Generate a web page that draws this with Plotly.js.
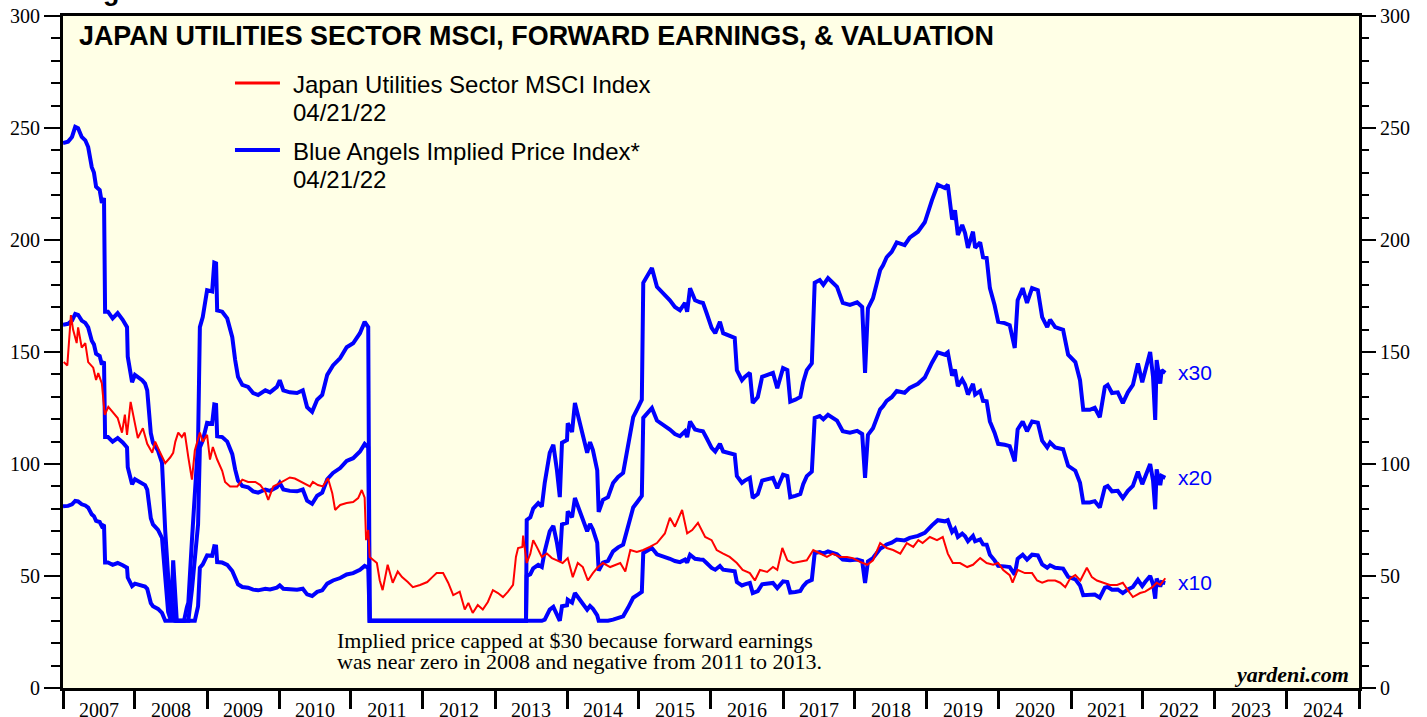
<!DOCTYPE html>
<html>
<head>
<meta charset="utf-8">
<script src="https://cdn.plot.ly/plotly-3.0.1.min.js"></script>
<style>html,body{margin:0;padding:0;background:#ffffff;}#chart{width:1427px;height:717px;}</style>
</head>
<body>
<div id="chart"></div>
<script>
// ---------- DATA ----------
// Japan Utilities Sector MSCI Index (time as decimal year, value)
const redT = [
  2007.01,2007.06,2007.11,2007.14,2007.19,2007.21,2007.26,2007.31,2007.35,2007.42,2007.46,2007.49,2007.54,2007.58,2007.63,2007.69,2007.76,2007.82,2007.86,2007.89,2007.94,
  2008.00,2008.04,2008.11,2008.17,2008.24,2008.28,2008.35,2008.42,2008.49,2008.53,2008.56,2008.60,2008.65,2008.69,2008.74,2008.79,2008.83,2008.90,2008.94,
  2009.00,2009.04,2009.08,2009.14,2009.21,2009.25,2009.32,2009.42,2009.49,2009.57,2009.67,2009.74,2009.81,2009.85,2009.92,
  2010.01,2010.15,2010.22,2010.33,2010.43,2010.47,2010.54,2010.61,2010.68,2010.74,2010.78,2010.85,2010.94,
  2011.03,2011.10,2011.15,2011.19,2011.21,2011.24,2011.26,2011.31,2011.36,2011.40,2011.44,2011.51,2011.58,2011.65,2011.71,2011.79,2011.86,2011.96,
  2012.06,2012.13,2012.19,2012.28,2012.35,2012.42,2012.51,2012.58,2012.63,2012.69,2012.76,2012.83,2012.90,2012.97,
  2013.04,2013.11,2013.18,2013.25,2013.29,2013.32,2013.38,2013.39,2013.44,2013.49,2013.53,2013.58,2013.65,2013.72,2013.79,2013.86,2013.94,
  2014.01,2014.08,2014.15,2014.22,2014.29,2014.36,2014.43,2014.50,2014.60,2014.69,2014.74,2014.81,2014.88,2014.97,
  2015.06,2015.15,2015.25,2015.36,2015.43,2015.50,2015.60,2015.67,2015.74,2015.82,2015.92,
  2016.01,2016.08,2016.17,2016.26,2016.36,2016.44,2016.54,2016.61,2016.68,2016.78,2016.86,2016.92,2016.99,
  2017.06,2017.14,2017.24,2017.33,2017.42,2017.51,2017.61,2017.69,2017.79,2017.89,2017.97,
  2018.07,2018.17,2018.25,2018.35,2018.44,2018.53,2018.63,2018.72,2018.81,2018.88,2018.94,
  2019.04,2019.14,2019.22,2019.29,2019.36,2019.46,2019.56,2019.64,2019.74,2019.83,2019.92,2019.99,
  2020.06,2020.15,2020.19,2020.26,2020.36,2020.46,2020.53,2020.60,2020.68,2020.78,2020.85,2020.92,2020.99,
  2021.06,2021.13,2021.22,2021.29,2021.36,2021.44,2021.54,2021.64,2021.72,2021.79,2021.86,2021.96,
  2022.03,2022.13,2022.19,2022.24,2022.31
];
const redV = [
  145.5,144,166.5,160,154,161,152,154,145.5,143,137.5,140.6,136,122,125.5,123,120.5,114,122,113,127.7,
  118,111.6,116,109,105,110,105,100.4,103,105,110,114,112,114,103,93,106,114,110,
  113,102,107.6,102,97,92,90,90,93,92,92,90.6,87.5,84,90,
  91.5,94,93.5,91.5,90,92,90.6,90,93.6,87,79.5,81.7,82.6,
  83,84.8,88.4,85,66,70.5,58.5,57,55.8,48,43.7,55,47,52,49.5,47.3,45,46,
  47.3,49.5,51.3,51.3,47,41.5,43,35,38,33.5,37,35,38.4,43.7,
  42.4,40.6,43,46,58.5,62.5,63,68,55.8,60,66,63,58.5,60,58,57,55.8,
  58,49.5,55.8,54,48,51.3,54,55.8,54,55,55.8,52,61.6,60.7,
  61.6,63,64.7,69,76,72,79.5,69,70.5,73.7,67.4,
  66,61.6,60,58.5,55.8,52.7,51.3,48,52.7,51.8,54,52.7,62.5,
  57,55.8,56.3,57,61.6,60,58.5,60,58.5,58.5,58,
  56.3,55,57,64.7,62.5,61.6,60,64.7,63,66,64.7,
  67.4,66,67.4,60,55.8,55.8,54,55,58,55.8,55,55.8,
  52.7,50.4,47,52.7,51.3,51.3,48,47,48,48,47,45,49,
  50.4,48,53.7,49.5,48,47,46,46,47,43.7,40.6,42.4,
  43,45,47,46,49
];

// Forward earnings per share behind the Blue Angels implied prices (time as decimal year, value)
const epsT = [
  2007.00,2007.07,2007.125,2007.17,2007.21,2007.26,2007.31,2007.35,2007.40,2007.43,2007.46,2007.51,2007.54,2007.57,2007.585,2007.625,2007.69,2007.76,2007.83,2007.89,2007.90,2007.96,
  2008.00,2008.04,2008.10,2008.14,2008.17,2008.22,2008.25,2008.32,2008.375,2008.42,2008.46,2008.50,2008.53,2008.56,2008.58,2008.625,2008.68,2008.72,2008.74,2008.79,2008.83,2008.875,2008.90,2008.94,
  2009.00,2009.07,2009.10,2009.125,2009.14,2009.21,2009.28,2009.35,2009.39,2009.43,2009.49,2009.57,2009.64,2009.71,2009.81,2009.875,2009.97,
  2010.01,2010.06,2010.15,2010.25,2010.33,2010.39,2010.46,2010.53,2010.60,2010.67,2010.75,2010.85,2010.94,
  2011.03,2011.125,2011.19,2011.24,2011.26,2011.50,2011.75,
  2012.00,2012.50,
  2013.00,2013.43,2013.44,2013.49,2013.53,2013.60,2013.65,2013.69,2013.76,2013.81,2013.86,2013.90,2013.93,
  2014.00,2014.01,2014.07,2014.11,2014.15,2014.22,2014.28,2014.32,2014.36,2014.42,2014.44,2014.50,2014.57,2014.64,2014.71,2014.78,2014.85,2014.92,2014.99,
  2015.04,2015.06,2015.18,2015.25,2015.33,2015.43,2015.50,2015.57,2015.64,2015.67,2015.71,2015.78,2015.85,2015.89,2015.94,
  2016.01,2016.06,2016.125,2016.17,2016.29,2016.33,2016.36,2016.43,2016.47,2016.54,2016.58,2016.65,2016.71,2016.78,2016.86,2016.92,
  2017.00,2017.06,2017.10,2017.17,2017.24,2017.28,2017.33,2017.40,2017.44,2017.51,2017.56,2017.625,2017.69,2017.75,2017.83,2017.93,
  2018.03,2018.10,2018.14,2018.18,2018.25,2018.31,2018.35,2018.39,2018.44,2018.51,2018.58,2018.69,2018.76,2018.875,2018.97,
  2019.07,2019.15,2019.25,2019.29,2019.35,2019.39,2019.43,2019.49,2019.53,2019.57,2019.64,2019.67,2019.74,2019.78,2019.83,2019.875,2019.94,2019.99,
  2020.08,2020.15,2020.22,2020.26,2020.33,2020.39,2020.46,2020.54,2020.60,2020.67,2020.71,2020.78,2020.89,2020.96,
  2021.06,2021.125,2021.17,2021.26,2021.33,2021.40,2021.47,2021.51,2021.57,2021.65,2021.72,2021.79,2021.86,2021.93,2021.99,
  2022.03,2022.10,2022.14,2022.17,2022.19,2022.24,2022.26,2022.31
];
const epsV = [
  8.11,8.13,8.2,8.35,8.33,8.2,8.15,8.05,7.75,7.67,7.46,7.41,7.22,7.29,5.6,5.6,5.5,5.58,5.48,5.37,4.93,4.55,
  4.66,4.63,4.58,4.53,4.43,3.79,3.65,3.53,3.35,2.33,1.7,0.8,1.9,1.2,0.5,0.5,0.8,1.2,1.27,2.2,2.85,3.65,5.37,5.52,
  5.92,5.9,6.33,6.32,5.62,5.6,5.5,5.22,4.88,4.63,4.51,4.48,4.39,4.36,4.43,4.4,4.48,
  4.58,4.43,4.4,4.39,4.43,4.18,4.11,4.29,4.36,4.66,4.8,4.91,5.07,
  5.13,5.28,5.45,5.37,-0.5,-1,-1.3,
  -1.5,-1.2,
  -0.8,-0.2,2.5,2.54,2.67,2.75,2.7,3.05,3.5,3.62,3.24,2.84,3.65,
  3.69,3.94,3.81,4.24,4.06,3.73,3.5,3.66,3.54,3.24,2.62,2.8,2.84,3.05,3.14,3.2,3.59,4.03,4.18,
  4.29,6.03,6.25,5.97,5.89,5.77,5.67,5.62,5.73,5.6,5.95,5.77,5.74,5.73,5.58,
  5.36,5.28,5.45,5.28,5.22,5.21,4.73,4.58,4.63,4.69,4.24,4.33,4.63,4.66,4.69,4.46,
  4.76,4.73,4.26,4.29,4.33,4.55,4.73,4.83,6.03,6.07,6.0,6.1,6.03,5.97,5.73,5.7,
  5.74,5.67,4.69,5.65,5.8,6.03,6.22,6.29,6.41,6.49,6.63,6.59,6.7,6.79,6.93,
  7.26,7.49,7.44,7.49,6.97,7.11,6.74,6.89,6.77,6.55,6.79,6.55,6.63,6.41,6.4,5.95,5.7,5.45,
  5.43,5.4,5.06,5.77,5.95,5.73,5.95,5.92,5.52,5.37,5.48,5.37,5.33,4.96,
  4.85,4.58,4.14,4.14,4.17,4.03,4.48,4.51,4.39,4.4,4.24,4.4,4.51,4.83,4.55,
  4.73,5.0,4.63,3.99,4.88,4.53,4.73,4.69
];

// Valuation multiples drawn, their labels, and the price cap stated on the chart
const multiples = [10, 20, 30];
const multipleLabels = ['x10', 'x20', 'x30'];
const priceCap = 30;

const chartTitle = 'JAPAN UTILITIES SECTOR MSCI, FORWARD EARNINGS, & VALUATION';
const seriesNames = ['Japan Utilities Sector MSCI Index', 'Blue Angels Implied Price Index*'];
const seriesDate = '04/21/22';
const noteLines = ['Implied price capped at $30 because forward earnings',
                   'was near zero in 2008 and negative from 2011 to 2013.'];
const xRange = ['2007-01-01', '2025-01-01'];
const yRange = [0, 300];

// ---------- BUILD ----------
function decToDate(t) {
  const y = Math.floor(t + 1e-9);
  const a = Date.UTC(y, 0, 1), b = Date.UTC(y + 1, 0, 1);
  const d = new Date(a + (t - y) * (b - a));
  return d.toISOString().slice(0, 19).replace('T', ' ');
}
const redX = redT.map(decToDate);
const epsX = epsT.map(decToDate);

const RED = '#FF0000', BLUE = '#0000FF';
const SANS = 'Liberation Sans, Arial, sans-serif';
const SERIF = 'Liberation Serif, Times New Roman, serif';

const traces = [];
multiples.forEach(m => {
  traces.push({
    type: 'scatter', mode: 'lines', x: epsX,
    y: epsV.map(e => Math.max(priceCap, e * m)),
    line: {color: BLUE, width: 4}, showlegend: false, hoverinfo: 'skip'
  });
});
traces.push({
  type: 'scatter', mode: 'lines', x: redX, y: redV,
  line: {color: RED, width: 2}, showlegend: false, hoverinfo: 'skip'
});
traces.push({type: 'scatter', mode: 'lines', x: [redX[0]], y: [null], yaxis: 'y2', showlegend: false, hoverinfo: 'skip'});

const annotations = [];
annotations.push({xref: 'paper', yref: 'paper', x: 0.0108, y: 0.970, xanchor: 'left', yanchor: 'middle',
  text: '<b>' + chartTitle + '</b>', showarrow: false, font: {family: SANS, size: 26.9, color: '#000'}});
annotations.push({xref: 'paper', yref: 'paper', x: 0.0108, y: 1.0365, xanchor: 'left', yanchor: 'middle',
  text: '<b>Figure</b>', showarrow: false, font: {family: SANS, size: 26.9, color: '#000'}});
// legend texts
const legY = [[0.8988, 0.8571], [0.7991, 0.7560]];
seriesNames.forEach((n, i) => {
  annotations.push({xref: 'paper', yref: 'paper', x: 0.1760, y: legY[i][0], xanchor: 'left', yanchor: 'middle',
    text: n, showarrow: false, font: {family: SANS, size: 24, color: '#000'}});
  annotations.push({xref: 'paper', yref: 'paper', x: 0.1760, y: legY[i][1], xanchor: 'left', yanchor: 'middle',
    text: seriesDate, showarrow: false, font: {family: SANS, size: 24, color: '#000'}});
});
// multiple labels at the end of each blue line
multiples.forEach((m, i) => {
  const last = epsV.length - 1;
  annotations.push({xref: 'x', yref: 'y', x: epsX[last], y: Math.max(priceCap, epsV[last] * m),
    xanchor: 'left', yanchor: 'middle', xshift: 11, text: multipleLabels[i], showarrow: false,
    font: {family: SANS, size: 21, color: BLUE}});
});
// note
noteLines.forEach((t, i) => {
  annotations.push({xref: 'paper', yref: 'paper', x: 0.2100, y: [0.0714, 0.0387][i], xanchor: 'left', yanchor: 'middle',
    text: t, showarrow: false, font: {family: SERIF, size: 22, color: '#000'}});
});
annotations.push({xref: 'paper', yref: 'paper', x: 0.9935, y: 0.0208, xanchor: 'right', yanchor: 'middle',
  text: '<b><i>yardeni.com</i></b>', showarrow: false, font: {family: SERIF, size: 22, color: '#000'}});

const shapes = [
  {type: 'line', xref: 'paper', yref: 'paper', x0: 0.1327, x1: 0.1674, y0: 0.9003, y1: 0.9003, line: {color: RED, width: 3}},
  {type: 'line', xref: 'paper', yref: 'paper', x0: 0.1327, x1: 0.1674, y0: 0.8006, y1: 0.8006, line: {color: BLUE, width: 4}}
];

const yCommon = {
  range: yRange, tick0: 0, dtick: 50, ticks: 'outside', ticklen: 16, tickwidth: 2, tickcolor: '#000',
  minor: {dtick: 10, ticks: 'outside', ticklen: 9, tickwidth: 2, tickcolor: '#000'},
  showgrid: false, zeroline: false, fixedrange: true,
  tickfont: {family: SERIF, size: 20, color: '#000'}
};

const layout = {
  width: 1427, height: 717,
  margin: {l: 63, r: 68, t: 16, b: 29, pad: 0},
  paper_bgcolor: '#FFFFFF', plot_bgcolor: '#FFFFE6',
  showlegend: false,
  xaxis: {
    type: 'date', range: xRange, tick0: '2007-01-01', dtick: 'M12', tickformat: '%Y',
    ticklabelmode: 'period', ticks: 'outside', ticklen: 18, tickwidth: 3, tickcolor: '#000',
    showline: true, linewidth: 3, linecolor: '#000', mirror: true,
    showgrid: false, zeroline: false, fixedrange: true, ticklabelstandoff: -16,
    tickfont: {family: SERIF, size: 20, color: '#000'}
  },
  yaxis: Object.assign({}, yCommon, {showline: true, linewidth: 3, linecolor: '#000', mirror: true}),
  yaxis2: Object.assign({}, yCommon, {overlaying: 'y', side: 'right', showline: false}),
  annotations: annotations,
  shapes: shapes
};

Plotly.newPlot('chart', traces, layout, {displayModeBar: false, staticPlot: true});
</script>
</body>
</html>
